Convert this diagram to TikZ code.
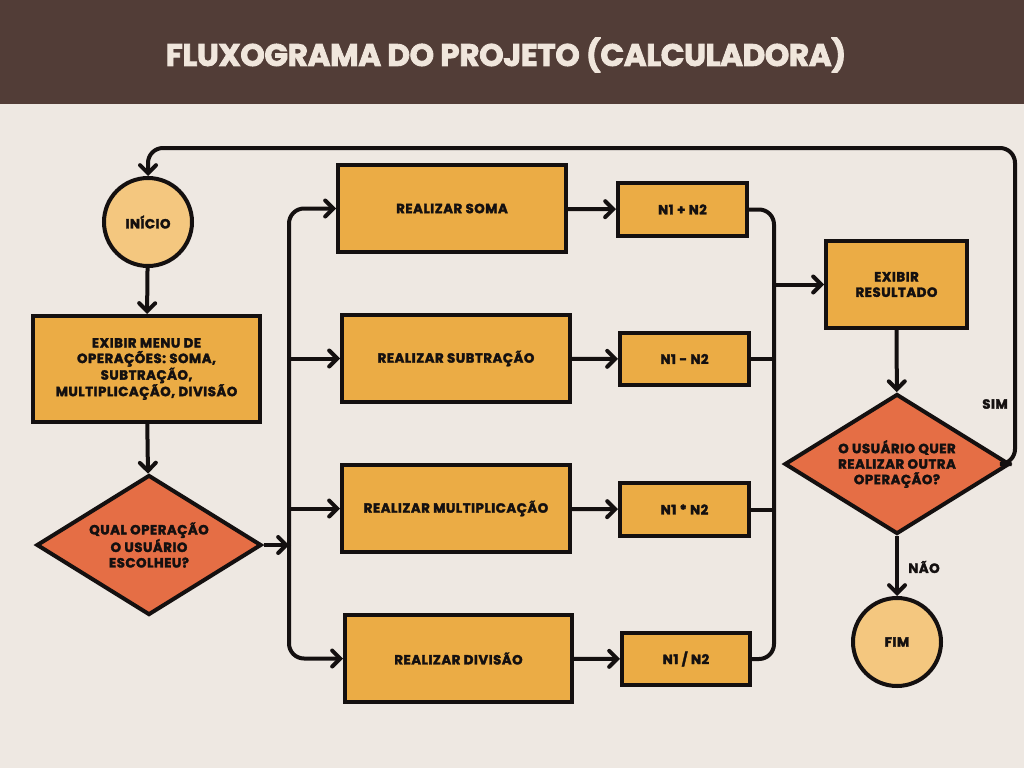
\documentclass[tikz,border=0pt]{standalone}
\usepackage{fontspec}
\setmainfont{Poppins}[BoldFeatures={FakeBold=2.4,LetterSpace=4}]
\newfontfamily\titlefont{Poppins}[BoldFeatures={FakeBold=2.8,LetterSpace=-1}]
\usetikzlibrary{shapes.geometric,arrows.meta}
\definecolor{bgc}{HTML}{EEE8E2}
\definecolor{hdr}{HTML}{523D37}
\definecolor{ttl}{HTML}{F0E6DC}
\definecolor{boxc}{HTML}{EBAC45}
\definecolor{circc}{HTML}{F4C77F}
\definecolor{diac}{HTML}{E56E45}
\definecolor{ink}{HTML}{141010}
\tikzset{
  lbl/.style={font=\fontsize{13.3}{15.5}\selectfont\bfseries, text=ink, align=center},
  procbox/.style={lbl, draw=ink, line width=4pt, fill=boxc, inner sep=0pt},
  termc/.style={lbl, draw=ink, line width=4pt, fill=circc, circle, minimum size=88pt, inner sep=0pt},
  decis/.style={lbl, draw=ink, line width=4pt, fill=diac, diamond, aspect=1.6, inner sep=0pt, minimum width=225pt, minimum height=140pt},
  conn/.style={draw=ink, line width=4pt},
  arr/.style={conn, -{Straight Barb[length=8pt,width=16pt,line width=4pt,line cap=round]}},
}
\begin{document}
\begin{tikzpicture}[x=1pt,y=-1pt]
\useasboundingbox (0,0) rectangle (1024,768);
\fill[bgc] (0,0) rectangle (1024,768);
\fill[hdr] (0,0) rectangle (1024,104);
\node[text=ttl, font=\titlefont\fontsize{31}{36}\selectfont\bfseries] (title) at (506,55) {FLUXOGRAMA DO PROJETO (CALCULADORA)};

\node[termc] (ini) at (148,222) {INÍCIO};
\node[procbox, minimum width=227pt, minimum height=106pt] (menu) at (146.5,369) {EXIBIR MENU DE\\OPERAÇÕES: SOMA,\\SUBTRAÇÃO,\\MULTIPLICAÇÃO, DIVISÃO};
\node[decis] (d1) at (149,545) {QUAL OPERAÇÃO\\O USUÁRIO\\ESCOLHEU?};

\node[procbox, minimum width=228pt, minimum height=87pt] (soma) at (452,208.5) {REALIZAR SOMA};
\node[procbox, minimum width=228pt, minimum height=87pt] (sub) at (456,358.5) {REALIZAR SUBTRAÇÃO};
\node[procbox, minimum width=228pt, minimum height=87pt] (mul) at (456,508.5) {REALIZAR MULTIPLICAÇÃO};
\node[procbox, minimum width=227pt, minimum height=87pt] (div) at (458.5,658.5) {REALIZAR DIVISÃO};

\node[procbox, minimum width=129pt, minimum height=53pt] (r1) at (682.5,209.5) {N1 + N2};
\node[procbox, minimum width=129pt, minimum height=52pt] (r2) at (684.5,359) {N1 - N2};
\node[procbox, minimum width=129pt, minimum height=53pt] (r3) at (684.5,509.5) {N1 * N2};
\node[procbox, minimum width=128pt, minimum height=52pt] (r4) at (686,659) {N1 / N2};

\node[procbox, minimum width=141pt, minimum height=87pt] (res) at (896.5,284.5) {EXIBIR\\RESULTADO};
\node[decis] (d2) at (897,464) {O USUÁRIO QUER\\REALIZAR OUTRA\\OPERAÇÃO?};
\node[termc] (fim) at (897,642) {FIM};

\node[lbl] (sim) at (995,404) {SIM};
\node[lbl] (nao) at (924,567) {NÃO};

\coordinate (busL) at (289,0);
\coordinate (busR) at (774,0);
\coordinate (loopR) at (1015,148);

\draw[arr] (ini) -- (menu);
\draw[arr] (menu) -- (d1);
\draw[arr] (d1.east) -- (d1.east -| busL);
\draw[arr, rounded corners=15pt] (busL |- d1.east) -- (busL |- soma.west) -- (soma.west);
\draw[arr, rounded corners=15pt] (busL |- d1.east) -- (busL |- div.west) -- (div.west);
\draw[arr] (busL |- sub.west) -- (sub.west);
\draw[arr] (busL |- mul.west) -- (mul.west);

\draw[arr] (soma) -- (r1);
\draw[arr] (sub) -- (r2);
\draw[arr] (mul) -- (r3);
\draw[arr] (div) -- (r4);

\draw[conn, rounded corners=15pt] (r1.east) -- (busR |- r1.east) -- (busR |- r4.east) -- (r4.east);
\draw[conn] (r2.east) -- (busR |- r2.east);
\draw[conn] (r3.east) -- (busR |- r3.east);
\draw[arr] (busR |- res.west) -- (res.west);

\draw[arr] (res) -- (d2);
\draw[arr] (d2) -- (fim);
\draw[arr, rounded corners=15pt] (d2.east) -- (d2.east -| loopR) -- (loopR) -- (ini |- loopR) -- (ini.north);
\end{tikzpicture}
\end{document}
